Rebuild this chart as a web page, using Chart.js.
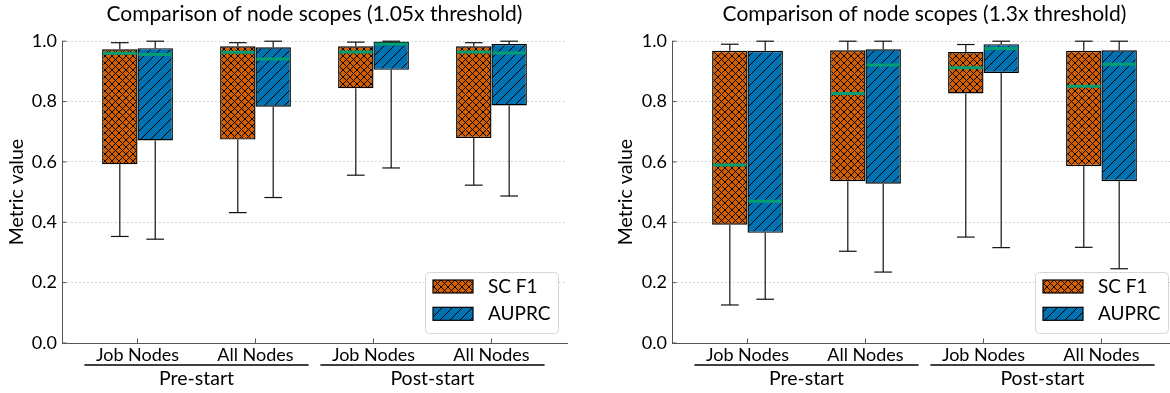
<!DOCTYPE html>
<html>
<head>
<meta charset="utf-8">
<script src="https://cdn.jsdelivr.net/npm/chart.js@4.4.1/dist/chart.umd.min.js"></script>
<style>
html, body { margin: 0; padding: 0; background: #fff; overflow: hidden; }
body { width: 1170px; height: 393px; position: relative; }
.caixa { position: absolute; top: 0; height: 393px; }
#caixa_105 { left: 0; width: 585px; }
#caixa_13 { left: 585px; width: 600px; }
</style>
</head>
<body>
<div class="caixa" id="caixa_105"><canvas id="grafico_105"></canvas></div>
<div class="caixa" id="caixa_13"><canvas id="grafico_13"></canvas></div>
<script>
/* Rótulos do eixo x e dos grupos */
const nos = ['Job Nodes', 'All Nodes', 'Job Nodes', 'All Nodes'];
const fases = ['Pre-start', 'Post-start'];
const series = ['SC F1', 'AUPRC'];

/* Limiar 1.05x: mínimo, quartil 1, mediana, quartil 3, máximo */
const f1_105_min = [0.353, 0.432, 0.556, 0.523];
const f1_105_q1 = [0.592, 0.674, 0.844, 0.679];
const f1_105_med = [0.960, 0.963, 0.964, 0.964];
const f1_105_q3 = [0.973, 0.983, 0.983, 0.983];
const f1_105_max = [0.995, 0.995, 0.997, 0.995];

const auprc_105_min = [0.344, 0.482, 0.580, 0.487];
const auprc_105_q1 = [0.671, 0.783, 0.905, 0.787];
const auprc_105_med = [0.956, 0.941, 0.991, 0.961];
const auprc_105_q3 = [0.977, 0.980, 0.999, 0.991];
const auprc_105_max = [1.0, 1.0, 1.0, 1.0];

/* Limiar 1.3x */
const f1_13_min = [0.126, 0.304, 0.351, 0.317];
const f1_13_q1 = [0.392, 0.536, 0.827, 0.586];
const f1_13_med = [0.590, 0.827, 0.912, 0.851];
const f1_13_q3 = [0.968, 0.970, 0.964, 0.968];
const f1_13_max = [0.990, 1.0, 0.989, 1.0];

const auprc_13_min = [0.145, 0.235, 0.316, 0.246];
const auprc_13_q1 = [0.365, 0.528, 0.895, 0.536];
const auprc_13_med = [0.470, 0.921, 0.976, 0.924];
const auprc_13_q3 = [0.968, 0.973, 0.990, 0.970];
const auprc_13_max = [1.0, 1.0, 1.0, 1.0];

const cor_f1 = '#D55E00';
const cor_auprc = '#0072B2';
const cor_mediana = '#009E73';
const fonte = 'Lato';

/* Hachuras: 'x' para SC F1, '/' para AUPRC */
function criarHachura(ctx, cor, tipo) {
    const p = tipo === 'x' ? 7 : 10;
    const c = document.createElement('canvas');
    c.width = p;
    c.height = p;
    const g = c.getContext('2d');
    g.fillStyle = cor;
    g.fillRect(0, 0, p, p);
    g.strokeStyle = '#000';
    g.lineWidth = 1;
    g.beginPath();
    g.moveTo(-1, p + 1); g.lineTo(p + 1, -1);
    g.moveTo(-1, 1); g.lineTo(1, -1);
    g.moveTo(p - 1, p + 1); g.lineTo(p + 1, p - 1);
    if (tipo === 'x') {
        g.moveTo(-1, -1); g.lineTo(p + 1, p + 1);
        g.moveTo(p - 1, -1); g.lineTo(p + 1, 1);
        g.moveTo(-1, p - 1); g.lineTo(1, p + 1);
    }
    g.stroke();
    return ctx.createPattern(c, 'repeat');
}

function linha(ctx, x1, y1, x2, y2) {
    ctx.beginPath();
    ctx.moveTo(x1, y1);
    ctx.lineTo(x2, y2);
    ctx.stroke();
}

/* Bigodes, medianas, ticks internos, grupos e legenda */
const pluginCaixas = {
    id: 'caixas',
    beforeDatasetsDraw(chart) {
        const ctx = chart.ctx;
        const y = chart.scales.y;
        ctx.save();
        ctx.strokeStyle = '#111';
        ctx.lineWidth = 1.2;
        chart.data.datasets.forEach((ds, d) => {
            chart.getDatasetMeta(d).data.forEach((bar, i) => {
                const w = bar.width / 4;
                const yMin = y.getPixelForValue(ds.minimo[i]);
                const yMax = y.getPixelForValue(ds.maximo[i]);
                const yQ1 = y.getPixelForValue(ds.data[i].y[0]);
                const yQ3 = y.getPixelForValue(ds.data[i].y[1]);
                linha(ctx, bar.x, yQ1, bar.x, yMin);
                linha(ctx, bar.x, yQ3, bar.x, yMax);
                linha(ctx, bar.x - w, yMin, bar.x + w, yMin);
                linha(ctx, bar.x - w, yMax, bar.x + w, yMax);
            });
        });
        ctx.restore();
    },
    afterDatasetsDraw(chart) {
        const ctx = chart.ctx;
        const y = chart.scales.y;
        ctx.save();
        ctx.strokeStyle = cor_mediana;
        ctx.lineWidth = 3;
        chart.data.datasets.forEach((ds, d) => {
            chart.getDatasetMeta(d).data.forEach((bar, i) => {
                const py = y.getPixelForValue(ds.mediana[i]);
                linha(ctx, bar.x - bar.width / 2 + 1, py, bar.x + bar.width / 2 - 1, py);
            });
        });
        ctx.restore();
    },
    afterDraw(chart) {
        const ctx = chart.ctx;
        const area = chart.chartArea;
        const x = chart.scales.x;
        const y = chart.scales.y;
        ctx.save();
        // ticks para dentro
        ctx.strokeStyle = '#555';
        ctx.lineWidth = 1;
        y.ticks.forEach(t => {
            const py = y.getPixelForValue(t.value);
            linha(ctx, area.left, py, area.left + 4.5, py);
        });
        x.ticks.forEach(t => {
            const px = x.getPixelForValue(t.value);
            linha(ctx, px, area.bottom, px, area.bottom - 4.5);
        });
        // grupos Pre-start / Post-start
        ctx.strokeStyle = '#000';
        ctx.lineWidth = 1.3;
        ctx.fillStyle = '#000';
        ctx.font = '19.5px ' + fonte;
        ctx.textAlign = 'center';
        ctx.textBaseline = 'middle';
        fases.forEach((f, g) => {
            const x1 = x.getPixelForValue(2 * g - 0.45);
            const x2 = x.getPixelForValue(2 * g + 1.45);
            linha(ctx, x1, area.bottom + 22, x2, area.bottom + 22);
            ctx.fillText(f, x.getPixelForValue(2 * g + 0.5), area.bottom + 36);
        });
        // legenda
        const lw = 133, lh = 61;
        const lx = area.right - 9 - lw;
        const ly = area.bottom - 10 - lh;
        ctx.fillStyle = 'rgba(255,255,255,0.85)';
        ctx.strokeStyle = '#d6d6d6';
        ctx.lineWidth = 1;
        ctx.beginPath();
        ctx.roundRect(lx + 0.5, ly + 0.5, lw, lh, 4);
        ctx.fill();
        ctx.stroke();
        ctx.font = '19px ' + fonte;
        ctx.textAlign = 'left';
        chart.data.datasets.forEach((ds, d) => {
            const sy = ly + 8 + d * 27.3;
            ctx.fillStyle = ds.backgroundColor;
            ctx.fillRect(lx + 8, sy, 40, 13);
            ctx.strokeStyle = '#000';
            ctx.lineWidth = 1.2;
            ctx.strokeRect(lx + 8, sy, 40, 13);
            ctx.fillStyle = '#000';
            ctx.fillText(ds.label, lx + 63, sy + 7);
        });
        ctx.restore();
    }
};

function criarGrafico(idCanvas, titulo, f1, auprc, larguraEixoY, padTituloY, padDireita) {
    const ctx = document.getElementById(idCanvas).getContext('2d');
    const hachura_f1 = criarHachura(ctx, cor_f1, 'x');
    const hachura_auprc = criarHachura(ctx, cor_auprc, '/');
    const tickFont = { family: fonte, size: 18 };

    const data_caixas = {
        datasets: [{
            label: series[0],
            data: nos.map((n, i) => ({ x: i, y: [f1.q1[i], f1.q3[i]] })),
            minimo: f1.min,
            maximo: f1.max,
            mediana: f1.med,
            backgroundColor: hachura_f1,
            borderColor: '#000',
            borderWidth: 1.4,
            borderSkipped: false
        }, {
            label: series[1],
            data: nos.map((n, i) => ({ x: i, y: [auprc.q1[i], auprc.q3[i]] })),
            minimo: auprc.min,
            maximo: auprc.max,
            mediana: auprc.med,
            backgroundColor: hachura_auprc,
            borderColor: '#000',
            borderWidth: 1.4,
            borderSkipped: false
        }]
    };

    const config_caixas = {
        type: 'bar',
        data: data_caixas,
        options: {
            responsive: true,
            maintainAspectRatio: false,
            animation: false,
            layout: { padding: { left: 0, right: padDireita, top: 0, bottom: 0 } },
            datasets: { bar: { categoryPercentage: 0.6, barPercentage: 1.0 } },
            plugins: {
                legend: { display: false },
                tooltip: { enabled: false },
                title: {
                    display: true,
                    text: titulo,
                    fullSize: false,
                    color: '#000',
                    font: { family: fonte, size: 21, weight: 'normal' },
                    padding: { top: 2, bottom: 14 }
                }
            },
            scales: {
                x: {
                    type: 'linear',
                    offset: false,
                    min: -0.64,
                    max: 3.64,
                    afterBuildTicks: s => { s.ticks = nos.map((n, i) => ({ value: i })); },
                    afterFit: s => { s.height = 50; },
                    ticks: {
                        callback: v => nos[v],
                        color: '#000',
                        font: tickFont,
                        padding: 1,
                        maxRotation: 0,
                        autoSkip: false
                    },
                    grid: { display: false, drawTicks: false, offset: false },
                    border: { display: true, color: '#555', width: 1 }
                },
                y: {
                    min: 0,
                    max: 1,
                    afterFit: s => { s.width = larguraEixoY; },
                    ticks: {
                        stepSize: 0.2,
                        callback: v => v.toFixed(1),
                        padding: 5,
                        color: '#000',
                        font: tickFont
                    },
                    grid: { color: '#bdbdbd', lineWidth: 0.8, drawTicks: false },
                    border: { display: true, color: '#555', width: 1, dash: [1.5, 2.5] },
                    title: {
                        display: true,
                        text: 'Metric value',
                        color: '#000',
                        font: { family: fonte, size: 19.5 },
                        padding: { top: padTituloY, bottom: 0 }
                    }
                }
            }
        },
        plugins: [pluginCaixas]
    };

    return new Chart(ctx, config_caixas);
}

const grafico_105 = criarGrafico('grafico_105', 'Comparison of node scopes (1.05x threshold)',
    { min: f1_105_min, q1: f1_105_q1, med: f1_105_med, q3: f1_105_q3, max: f1_105_max },
    { min: auprc_105_min, q1: auprc_105_q1, med: auprc_105_med, q3: auprc_105_q3, max: auprc_105_max },
    62, 5, 18);

const grafico_13 = criarGrafico('grafico_13', 'Comparison of node scopes (1.3x threshold)',
    { min: f1_13_min, q1: f1_13_q1, med: f1_13_med, q3: f1_13_q3, max: f1_13_max },
    { min: auprc_13_min, q1: auprc_13_q1, med: auprc_13_med, q3: auprc_13_q3, max: auprc_13_max },
    87, 29, 8);
</script>
</body>
</html>
